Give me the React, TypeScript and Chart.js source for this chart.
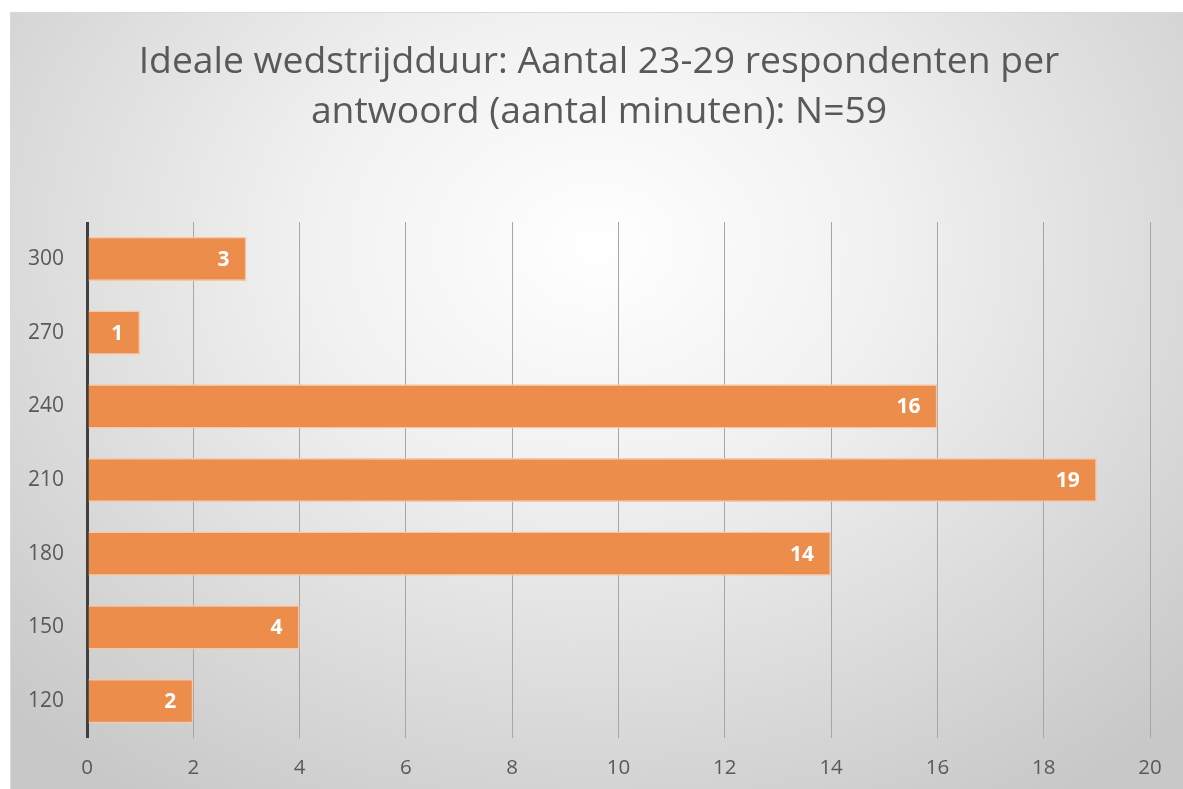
import React, { useEffect, useRef } from "react";
import { Chart, registerables } from "chart.js";

Chart.register(...registerables);

const categories = ["300", "270", "240", "210", "180", "150", "120"];
const respondents = [3, 1, 16, 19, 14, 4, 2];
const titleLines = [
  "Ideale wedstrijdduur: Aantal 23-29 respondenten per",
  "antwoord (aantal minuten): N=59",
];

const FONT = "'Open Sans', 'Noto Sans', sans-serif";

const labelPlugin = {
  id: "barLabels",
  afterDatasetsDraw(chart: any) {
    const ctx = chart.ctx;
    const meta = chart.getDatasetMeta(0);
    ctx.save();
    ctx.fillStyle = "#ffffff";
    ctx.font = `bold 21px ${FONT}`;
    ctx.textAlign = "right";
    ctx.textBaseline = "middle";
    meta.data.forEach((bar: any, i: number) => {
      ctx.fillText(String(respondents[i]), bar.x - 17, bar.y + 1);
    });
    ctx.restore();
  },
};

const titlePlugin = {
  id: "centeredTitle",
  afterDraw(chart: any) {
    const ctx = chart.ctx;
    ctx.save();
    ctx.fillStyle = "#595959";
    ctx.font = `37.3px ${FONT}`;
    ctx.textAlign = "center";
    ctx.textBaseline = "middle";
    const cx = chart.width / 2 + 2;
    titleLines.forEach((line, i) => {
      ctx.fillText(line, cx, 49 + i * 50);
    });
    ctx.restore();
  },
};

export default function App() {
  const ref = useRef<HTMLCanvasElement | null>(null);
  useEffect(() => {
    if (!ref.current) return;
    const chart = new Chart(ref.current, {
      type: "bar",
      data: {
        labels: categories,
        datasets: [
          {
            data: respondents,
            backgroundColor: "#ED8D4C",
            borderColor: "#F7C8A6",
            borderWidth: 1.5,
            barPercentage: 0.6,
            categoryPercentage: 1,
          },
        ],
      },
      options: {
        indexAxis: "y",
        animation: false,
        responsive: false,
        maintainAspectRatio: false,
        layout: { padding: { top: 209, left: 0, right: 33, bottom: 0 } },
        plugins: {
          legend: { display: false },
          tooltip: { enabled: false },
          title: { display: false },
        },
        scales: {
          x: {
            min: 0,
            max: 20,
            ticks: {
              stepSize: 2,
              color: "#595959",
              font: { family: FONT, size: 20.5 },
              padding: 18,
            },
            grid: {
              drawTicks: false,
              color: (c: any) => (c.tick && c.tick.value === 0 ? "#404040" : "#a6a6a6"),
              lineWidth: (c: any) => (c.tick && c.tick.value === 0 ? 3 : 1),
            },
            border: { display: false },
            afterFit: (scale: any) => {
              scale.height = 51;
            },
          },
          y: {
            ticks: {
              color: "#595959",
              font: { family: FONT, size: 21 },
              padding: 23,
            },
            grid: { display: false, drawTicks: false },
            border: { display: false },
            afterFit: (scale: any) => {
              scale.width = 76;
            },
          },
        },
      },
      plugins: [labelPlugin, titlePlugin],
    });
    return () => chart.destroy();
  }, []);

  return (
    <div
      style={{
        position: "fixed",
        left: 10,
        top: 12,
        width: 1173,
        height: 777,
        boxSizing: "border-box",
        borderTop: "1.5px solid #d9d9d9",
        borderLeft: "1.5px solid #d9d9d9",
        background:
          "radial-gradient(ellipse 70% 85% at 50% 30%, #ffffff 0%, #f1f1f1 35%, #c8c8c8 100%)",
      }}
    >
      <canvas ref={ref} width={1172} height={776} style={{ display: "block" }} />
    </div>
  );
}
